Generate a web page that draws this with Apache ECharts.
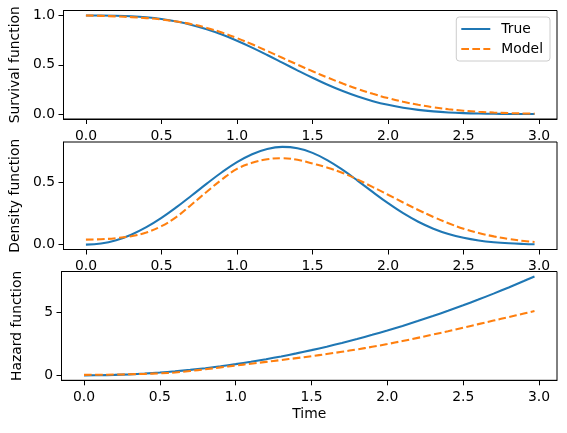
<!DOCTYPE html>
<html>
<head>
<meta charset="utf-8">
<script src="https://cdn.jsdelivr.net/npm/echarts@6/dist/echarts.min.js"></script>
<style>
  html, body { margin: 0; padding: 0; background: #fff; }
  #chart { width: 567px; height: 433px; }
</style>
</head>
<body>
<div id="chart"></div>
<script>
// sample times (x)
const timeVals = [0, 0.1, 0.2, 0.3, 0.4, 0.5, 0.6, 0.7, 0.8, 0.9, 1.0, 1.1, 1.2, 1.3, 1.4, 1.5,
  1.6, 1.7, 1.8, 1.9, 2.0, 2.1, 2.2, 2.3, 2.4, 2.5, 2.6, 2.7, 2.8, 2.9, 2.97];

// survival function
const trueSurv = [1, 0.9997, 0.9976, 0.992, 0.9812, 0.9636, 0.938, 0.9034, 0.8593, 0.8057, 0.7436,
  0.6741, 0.5993, 0.5216, 0.4435, 0.3679, 0.2971, 0.2332, 0.1776, 0.131, 0.0935, 0.0643, 0.0426,
  0.0272, 0.0166, 0.0098, 0.0055, 0.0029, 0.0015, 0.0007, 0.0004];
const modelSurv = [1, 0.9957, 0.9903, 0.9829, 0.9728, 0.9585, 0.9385, 0.9107, 0.8737, 0.8264, 0.7702,
  0.7072, 0.64, 0.5709, 0.5017, 0.4343, 0.3699, 0.3096, 0.2544, 0.205, 0.1617, 0.1247, 0.0938,
  0.0688, 0.0492, 0.0342, 0.0232, 0.0153, 0.0098, 0.0061, 0.0043];

// density function
const trueDens = [0, 0.0089, 0.0355, 0.0794, 0.1396, 0.2141, 0.3002, 0.3935, 0.4888, 0.5801, 0.661,
  0.725, 0.7671, 0.7835, 0.7727, 0.7358, 0.6761, 0.5992, 0.5116, 0.4205, 0.3323, 0.2521, 0.1835,
  0.1278, 0.0852, 0.0542, 0.0329, 0.019, 0.0104, 0.0054, 0.0033];
const modelDens = [0.04, 0.043, 0.052, 0.067, 0.097, 0.148, 0.222, 0.322, 0.424, 0.522, 0.607,
  0.6555, 0.684, 0.693, 0.68, 0.65, 0.617, 0.574, 0.521, 0.461, 0.4, 0.338, 0.278,
  0.222, 0.172, 0.127, 0.093, 0.066, 0.045, 0.029, 0.021];

// hazard function
const trueHaz = [0, 0.0089, 0.0356, 0.08, 0.1422, 0.2222, 0.32, 0.4356, 0.5689, 0.72, 0.8889,
  1.0756, 1.28, 1.5022, 1.7422, 2, 2.2756, 2.5689, 2.88, 3.2089, 3.5556, 3.92, 4.3022,
  4.7022, 5.12, 5.5556, 6.0089, 6.48, 6.9689, 7.4756, 7.8408];
const modelHaz = [0.04, 0.046, 0.062, 0.088, 0.115, 0.16, 0.23, 0.35, 0.48, 0.63, 0.78,
  0.925, 1.07, 1.215, 1.365, 1.52, 1.69, 1.87, 2.06, 2.26, 2.48, 2.72, 2.97,
  3.23, 3.5, 3.78, 4.06, 4.34, 4.62, 4.9, 5.1];

// tick labels
const xTicks = [0, 0.5, 1.0, 1.5, 2.0, 2.5, 3.0];
const survTicks = [0, 0.5, 1.0];
const densTicks = [0, 0.5];
const hazTicks = [0, 5];

const seriesNames = ["True", "Model"];
const panelNames = ["Survival function", "Density function", "Hazard function"];

const FONT = "DejaVu Sans";
const FS = 13.9;
const BLUE = "#1f77b4";
const ORANGE = "#ff7f0e";

const pairs = (ys) => timeVals.map((t, i) => [t, ys[i]]);

const grids = [
  { top: 10.5, height: 108.5 },
  { top: 142, height: 107.5 },
  { top: 271.5, height: 108.8 },
].map((g) => ({
  left: 61.5,
  right: 10,
  top: g.top,
  height: g.height,
  show: true,
  borderColor: "#000",
  borderWidth: 1,
  backgroundColor: "#fff",
}));

function xAxisFor(idx) {
  return {
    type: "value",
    gridIndex: idx,
    min: -0.1485,
    max: 3.1185,
    name: idx === 2 ? "Time" : "",
    nameLocation: "middle",
    nameGap: 27,
    nameTextStyle: { fontFamily: FONT, fontSize: FS, color: "#000" },
    splitLine: { show: false },
    axisLine: { show: true, onZero: false, lineStyle: { color: "#000", width: 1 } },
    axisTick: { show: true, length: 5, lineStyle: { color: "#000", width: 1 }, customValues: xTicks },
    axisLabel: {
      customValues: xTicks,
      margin: 10,
      fontFamily: FONT,
      fontSize: FS,
      color: "#000",
      formatter: (v) => v.toFixed(1),
    },
  };
}

function yAxisFor(idx, min, max, ticks, digits) {
  return {
    type: "value",
    gridIndex: idx,
    min: min,
    max: max,
    name: panelNames[idx],
    nameLocation: "middle",
    nameGap: 37,
    nameTextStyle: { fontFamily: FONT, fontSize: FS, color: "#000" },
    splitLine: { show: false },
    axisLine: { show: true, onZero: false, lineStyle: { color: "#000", width: 1 } },
    axisTick: { show: true, length: 5, lineStyle: { color: "#000", width: 1 }, customValues: ticks },
    axisLabel: {
      customValues: ticks,
      margin: 8.5,
      fontFamily: FONT,
      fontSize: FS,
      color: "#000",
      formatter: (v) => v.toFixed(digits),
    },
  };
}

function lineSeries(name, idx, ys) {
  const isModel = name === "Model";
  return {
    name: name,
    type: "line",
    xAxisIndex: idx,
    yAxisIndex: idx,
    data: pairs(ys),
    showSymbol: false,
    symbol: "none",
    smooth: 0.4,
    clip: true,
    color: isModel ? ORANGE : BLUE,
    lineStyle: {
      color: isModel ? ORANGE : BLUE,
      width: 2.08,
      type: isModel ? [7.7, 3.33] : "solid",
    },
  };
}

const chart = echarts.init(document.getElementById("chart"));
const option = {
  animation: false,
  backgroundColor: "#fff",
  textStyle: { fontFamily: FONT },
  grid: grids,
  legend: {
    data: seriesNames,
    orient: "vertical",
    right: 17,
    top: 17,
    padding: [5, 7, 5, 4],
    itemGap: 6,
    itemWidth: 29,
    itemHeight: 14,
    itemStyle: { opacity: 0 }, // hide the circle, keep the line
    borderColor: "#cccccc",
    borderWidth: 1,
    borderRadius: 3,
    backgroundColor: "rgba(255,255,255,0.8)",
    textStyle: { fontFamily: FONT, fontSize: FS, color: "#000", padding: [0, 0, 0, 6] },
  },
  xAxis: [xAxisFor(0), xAxisFor(1), xAxisFor(2)],
  yAxis: [
    yAxisFor(0, -0.05, 1.05, survTicks, 1),
    yAxisFor(1, -0.0392, 0.8228, densTicks, 1),
    yAxisFor(2, -0.392, 8.232, hazTicks, 0),
  ],
  series: [
    lineSeries("True", 0, trueSurv),
    lineSeries("Model", 0, modelSurv),
    lineSeries("True", 1, trueDens),
    lineSeries("Model", 1, modelDens),
    lineSeries("True", 2, trueHaz),
    lineSeries("Model", 2, modelHaz),
  ],
};
option && chart.setOption(option);
</script>
</body>
</html>
